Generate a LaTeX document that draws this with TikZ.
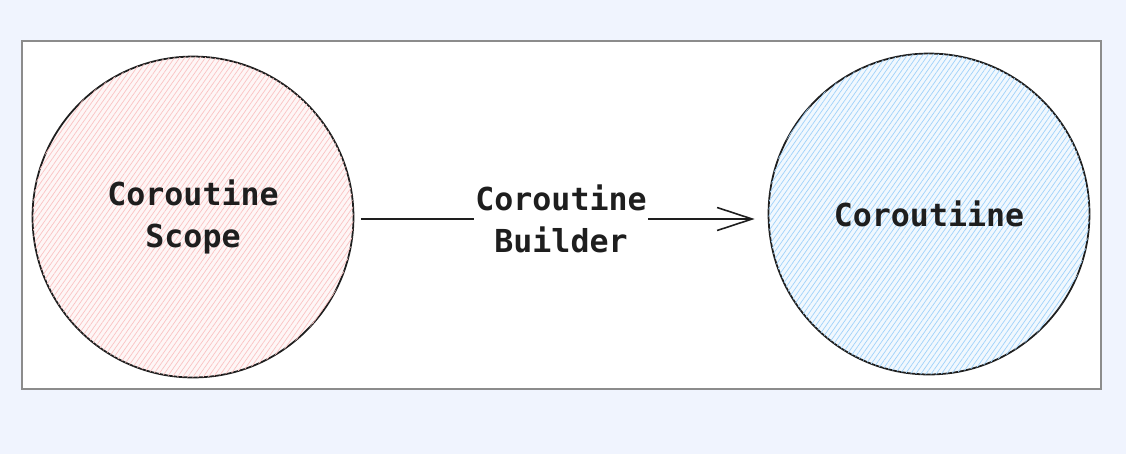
\documentclass[tikz,border=0pt]{standalone}
\usepackage{fontspec}
\setmonofont{DejaVu Sans Mono}
\usetikzlibrary{arrows.meta,patterns.meta,positioning}
\newcommand{\circsize}{6.42cm}
\definecolor{bgBlue}{RGB}{240,244,254}
\definecolor{frameGray}{RGB}{140,140,140}
\definecolor{inkBlack}{RGB}{30,30,30}
\definecolor{scopeRed}{RGB}{250,195,195}
\definecolor{coroBlue}{RGB}{160,210,250}
\tikzset{
  font=\ttfamily\bfseries\fontsize{18}{23.5}\selectfont,
  frame/.style={draw=frameGray,line width=0.6pt},
  blob/.style={draw=inkBlack,line width=1pt,shape=circle,minimum size=\circsize,inner sep=0,text=inkBlack,align=center},
  hatch/.style={postaction={pattern={Lines[angle=55,distance=2.4pt,line width=0.4pt]},pattern color=#1}},
  line/.style={draw=inkBlack,line width=0.9pt,-{Straight Barb[length=0.7cm,width=0.46cm,line width=0.9pt]}},
  lbl/.style={fill=white,inner sep=1pt,text=inkBlack,align=center},
}
\begin{document}
\begin{tikzpicture}[x=0.02cm,y=-0.02cm]
  \fill[bgBlue] (0,0) rectangle (1126,454);
  \useasboundingbox (0,0) rectangle (1126,454);
  \path [frame,fill=white] (22,41) rectangle (1101,389);
  \node (scope) [blob,fill=scopeRed!15,hatch=scopeRed] at (193,217) {Coroutine\\Scope};
  \node (coro) [blob,fill=coroBlue!15,hatch=coroBlue] at (929,214) {Coroutiine};
  \path [line,shorten <=0.13cm,shorten >=0.26cm] ([yshift=-0.04cm]scope.east) -- ([yshift=-0.04cm]scope.east -| coro.west)
    node[midway,lbl]{Coroutine\\Builder};
\end{tikzpicture}
\end{document}
